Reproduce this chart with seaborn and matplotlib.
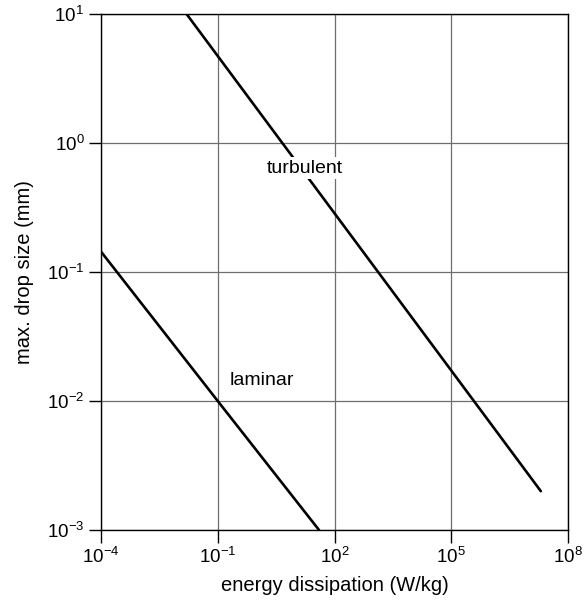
import matplotlib
matplotlib.use("Agg")
import matplotlib.pyplot as plt
import matplotlib.ticker as mticker
import numpy as np
import pandas as pd
import seaborn as sns

# Maximum stable drop size versus energy dissipation rate
turbulent_energy = [1.58e-2, 2.0e7]      # W/kg
turbulent_size = [10.0, 2.0e-3]         # mm
laminar_energy = [1.0e-4, 1.0e-1, 40.0]  # W/kg
laminar_size = [0.144, 1.0e-2, 1.0e-3]  # mm

x_tick_exponents = [-4, -1, 2, 5, 8]
y_tick_exponents = [-3, -2, -1, 0, 1]

series_labels = ["turbulent", "laminar"]
label_energy = [17.0, 1.4]
label_size = [0.64, 0.0143]

df = pd.concat([
    pd.DataFrame({"energy": turbulent_energy, "size": turbulent_size, "regime": "turbulent"}),
    pd.DataFrame({"energy": laminar_energy, "size": laminar_size, "regime": "laminar"}),
], ignore_index=True)

sns.set_theme(style="white")
plt.rcParams["font.family"] = ["Liberation Sans", "DejaVu Sans"]
plt.rcParams["mathtext.fontset"] = "custom"
plt.rcParams["mathtext.rm"] = "Liberation Sans"
plt.rcParams["mathtext.it"] = "Liberation Sans:italic"
plt.rcParams["mathtext.bf"] = "Liberation Sans:bold"
for key in ["text.color", "axes.labelcolor", "xtick.color", "ytick.color"]:
    plt.rcParams[key] = "black"

fig = plt.figure(figsize=(5.85, 6.06), dpi=100)
ax = fig.add_axes([0.1726, 0.1254, 0.7984, 0.8515])

sns.lineplot(data=df, x="energy", y="size", hue="regime", units="regime",
             estimator=None, sort=False, palette=["black", "black"],
             linewidth=1.9, legend=False, ax=ax, zorder=3)

ax.set_xscale("log")
ax.set_yscale("log")
ax.set_xlim(10.0 ** x_tick_exponents[0], 10.0 ** x_tick_exponents[-1])
ax.set_ylim(10.0 ** y_tick_exponents[0], 10.0 ** y_tick_exponents[-1])

ax.xaxis.set_major_locator(mticker.FixedLocator([10.0 ** e for e in x_tick_exponents]))
ax.yaxis.set_major_locator(mticker.FixedLocator([10.0 ** e for e in y_tick_exponents]))
ax.xaxis.set_minor_locator(mticker.NullLocator())
ax.yaxis.set_minor_locator(mticker.NullLocator())

def pow_label(v, pos):
    e = int(round(np.log10(v)))
    return r"$10^{%d}$" % e

ax.xaxis.set_major_formatter(mticker.FuncFormatter(pow_label))
ax.yaxis.set_major_formatter(mticker.FuncFormatter(pow_label))

ax.grid(True, which="major", color="#6e6e6e", linewidth=0.9)
ax.set_axisbelow(True)
for s in ax.spines.values():
    s.set_color("black")
    s.set_linewidth(1.0)

ax.tick_params(axis="both", which="major", direction="out", length=9,
               width=1.0, color="black", labelcolor="black", labelsize=13.5, pad=3,
               bottom=True, left=True, top=False, right=False)

ax.set_xlabel("energy dissipation (W/kg)", fontsize=14.5, labelpad=7)
ax.set_ylabel("max. drop size (mm)", fontsize=14.5, labelpad=9)

for text, ex, sy in zip(series_labels, label_energy, label_size):
    kw = {}
    if text == "turbulent":
        kw["bbox"] = dict(facecolor="white", edgecolor="none", pad=1.5)
    ax.text(ex, sy, text, fontsize=14, ha="center", va="center", zorder=4, **kw)

fig.savefig("out.png", dpi=100)
